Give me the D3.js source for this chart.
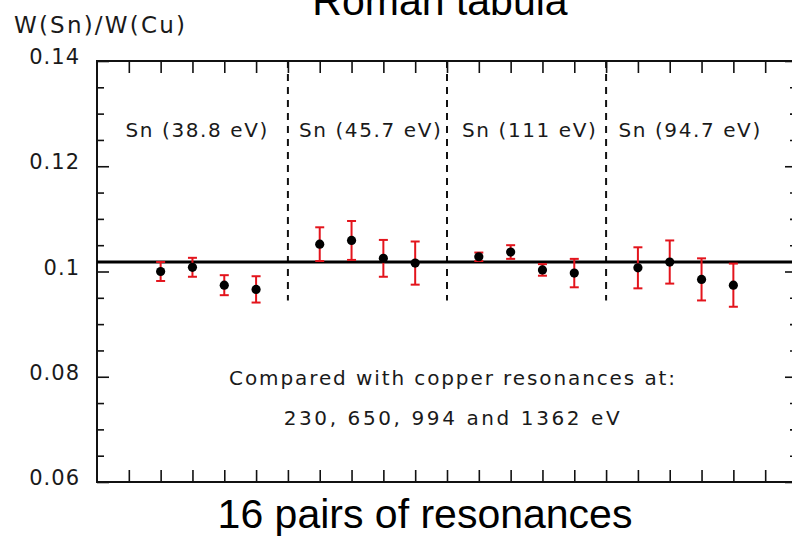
<!DOCTYPE html>
<html>
<head>
<meta charset="utf-8">
<script src="https://cdn.jsdelivr.net/npm/d3@7"></script>
<style>
  html, body { margin: 0; padding: 0; background: #fff; }
  svg { display: block; }
  .lab { font-family: "DejaVu Sans", sans-serif; fill: #1a1a1a; }
  .sans { font-family: "Liberation Sans", Arial, sans-serif; fill: #000; }
</style>
</head>
<body>
<svg id="chart" width="792" height="538"></svg>
<script>
// Resonance pair index along the x axis (1 unit per tick)
const pairIndex = [2, 3, 4, 5, 7, 8, 9, 10, 12, 13, 14, 15, 17, 18, 19, 20];
// Measured W(Sn)/W(Cu) ratio for each pair
const ratio = [0.1000, 0.1008, 0.0974, 0.0966,
               0.1052, 0.1059, 0.1025, 0.1016,
               0.1028, 0.1037, 0.1003, 0.0997,
               0.1007, 0.1018, 0.0985, 0.0974];
// One-sigma uncertainty of each ratio
const ratioErr = [0.0018, 0.0018, 0.0019, 0.0025,
                  0.0032, 0.0037, 0.0035, 0.0041,
                  0.0008, 0.0013, 0.0011, 0.0027,
                  0.0039, 0.0041, 0.0040, 0.0041];
// Weighted mean over all pairs
const meanRatio = 0.1018;
// Tin resonance groups and the boundaries between them
const groupLabels = ["Sn (38.8 eV)", "Sn (45.7 eV)", "Sn (111 eV)", "Sn (94.7 eV)"];
const groupBounds = [6, 11, 16];
// Axis ticks
const yTickValues = [0.06, 0.08, 0.1, 0.12, 0.14];
const yTickLabels = ["0.06", "0.08", "0.1", "0.12", "0.14"];
const xTickValues = d3.range(1, 22);
const noteLines = ["Compared with copper resonances at:", "230, 650, 994 and 1362 eV"];

// Layout
const groupLabelPos = [3.15, 8.6, 13.6, 18.64];
const noteSpacing = [1.9, 2.6];
const dashBottom = 0.0945;

const svg = d3.select("#chart");
const x = d3.scaleLinear().domain([0, 22]).range([97, 797]);
const y = d3.scaleLinear().domain([0.06, 0.14]).range([482, 61]);
const [x0, x1] = x.range();
const [yb, yt] = y.range();

// Axes: ticks on all four sides, pointing into the plot
const yMinor = d3.range(0.06, 0.1401, 0.005).filter(v => !yTickValues.some(t => Math.abs(t - v) < 1e-9));

const leftMajor = d3.axisRight(y).tickValues(yTickValues).tickSize(12).tickFormat("");
const leftMinor = d3.axisRight(y).tickValues(yMinor).tickSize(7).tickFormat("");
const rightMajor = d3.axisLeft(y).tickValues(yTickValues).tickSize(12).tickFormat("");
const rightMinor = d3.axisLeft(y).tickValues(yMinor).tickSize(7).tickFormat("");
const topAxis = d3.axisBottom(x).tickValues(xTickValues).tickSize(12).tickFormat("");
const bottomAxis = d3.axisTop(x).tickValues(xTickValues).tickSize(12).tickFormat("");

function styleAxis(g) {
  g.select(".domain").remove();
  g.selectAll(".tick line").attr("stroke", "#111").attr("stroke-width", 1.6);
}
svg.append("g").attr("transform", `translate(${x0},0)`).call(leftMajor).call(styleAxis);
svg.append("g").attr("transform", `translate(${x0},0)`).call(leftMinor).call(styleAxis);
svg.append("g").attr("transform", `translate(${x1},0)`).call(rightMajor).call(styleAxis);
svg.append("g").attr("transform", `translate(${x1},0)`).call(rightMinor).call(styleAxis);
svg.append("g").attr("transform", `translate(0,${yt})`).call(topAxis).call(styleAxis);
svg.append("g").attr("transform", `translate(0,${yb})`).call(bottomAxis).call(styleAxis);

// Frame
svg.append("rect")
  .attr("x", x0).attr("y", yt)
  .attr("width", x1 - x0).attr("height", yb - yt)
  .attr("fill", "none").attr("stroke", "#111").attr("stroke-width", 2);

// Y tick labels
svg.append("g").selectAll("text")
  .data(yTickValues)
  .join("text")
  .attr("class", "lab")
  .attr("x", 80)
  .attr("y", d => y(d) + 3)
  .attr("text-anchor", "end")
  .style("font-size", "21px")
  .style("letter-spacing", "1px")
  .text((d, i) => yTickLabels[i]);

// Y axis title
svg.append("text")
  .attr("class", "lab")
  .attr("x", 14).attr("y", 33)
  .style("font-size", "23px")
  .style("letter-spacing", "2.2px")
  .text("W(Sn)/W(Cu)");

// Group separators
svg.append("g").selectAll("line")
  .data(groupBounds)
  .join("line")
  .attr("x1", d => x(d)).attr("x2", d => x(d))
  .attr("y1", yt).attr("y2", y(dashBottom))
  .attr("stroke", "#111").attr("stroke-width", 2)
  .attr("stroke-dasharray", "7,6");

// Group labels
svg.append("g").selectAll("text")
  .data(groupLabels)
  .join("text")
  .attr("class", "lab")
  .attr("x", (d, i) => x(groupLabelPos[i]))
  .attr("y", 137)
  .attr("text-anchor", "middle")
  .style("font-size", "20px")
  .style("letter-spacing", "1.6px")
  .text(d => d);

// Mean line
svg.append("line")
  .attr("x1", x0).attr("x2", x1)
  .attr("y1", y(meanRatio)).attr("y2", y(meanRatio))
  .attr("stroke", "#000").attr("stroke-width", 3);

// Error bars
const pts = pairIndex.map((p, i) => ({ p, v: ratio[i], e: ratioErr[i] }));
const eb = svg.append("g").attr("stroke", "#e3141c").attr("stroke-width", 2);
eb.selectAll("line.v").data(pts).join("line").attr("class", "v")
  .attr("x1", d => x(d.p)).attr("x2", d => x(d.p))
  .attr("y1", d => y(d.v - d.e)).attr("y2", d => y(d.v + d.e));
eb.selectAll("line.t").data(pts).join("line").attr("class", "t")
  .attr("x1", d => x(d.p) - 4.5).attr("x2", d => x(d.p) + 4.5)
  .attr("y1", d => y(d.v + d.e)).attr("y2", d => y(d.v + d.e));
eb.selectAll("line.b").data(pts).join("line").attr("class", "b")
  .attr("x1", d => x(d.p) - 4.5).attr("x2", d => x(d.p) + 4.5)
  .attr("y1", d => y(d.v - d.e)).attr("y2", d => y(d.v - d.e));

// Points
svg.append("g").selectAll("circle")
  .data(pts)
  .join("circle")
  .attr("cx", d => x(d.p)).attr("cy", d => y(d.v))
  .attr("r", 4.6)
  .attr("fill", "#000");

// Note
svg.append("g").selectAll("text")
  .data(noteLines)
  .join("text")
  .attr("class", "lab")
  .attr("x", 453)
  .attr("y", (d, i) => 385 + i * 40)
  .attr("text-anchor", "middle")
  .style("font-size", "20px")
  .style("letter-spacing", (d, i) => noteSpacing[i] + "px")
  .text(d => d);

// Title and x axis caption
svg.append("text")
  .attr("class", "sans")
  .attr("x", 440).attr("y", 15)
  .attr("text-anchor", "middle")
  .style("font-size", "41px")
  .text("Roman tabula");

svg.append("text")
  .attr("class", "sans")
  .attr("x", 425).attr("y", 528)
  .attr("text-anchor", "middle")
  .style("font-size", "41px")
  .text("16 pairs of resonances");
</script>
</body>
</html>
